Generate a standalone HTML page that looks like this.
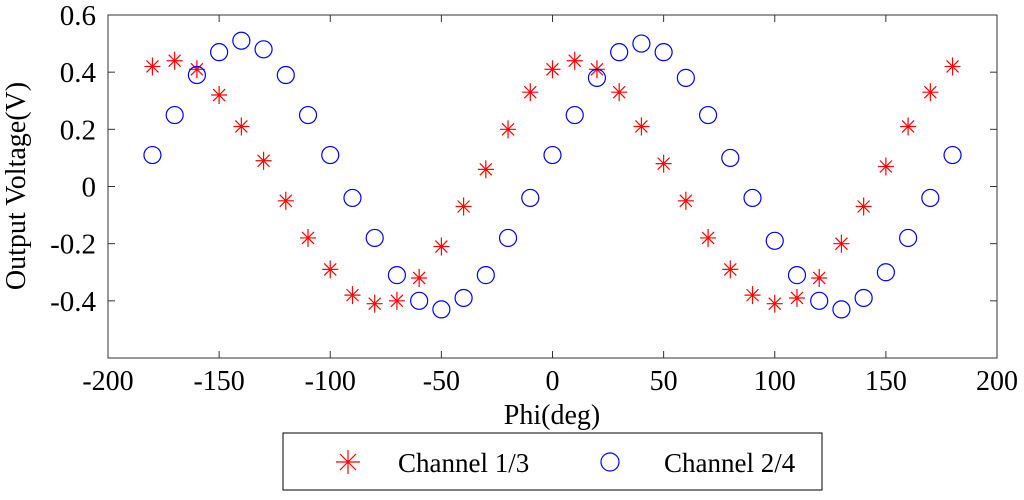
<!DOCTYPE html>
<html><head><meta charset="utf-8"><style>
body{margin:0;background:#fff;}
svg text{font-family:"Liberation Serif",serif;fill:#000;}
</style></head><body>
<svg id="chart" width="1024" height="495">
<g id="axes"></g>
<g id="marks"></g>
<g id="legend">
<rect x="283" y="433" width="539" height="57" fill="#fff" stroke="#000" stroke-width="1"/>
<g>
<g stroke="red" stroke-width="1.2"><line x1="336" y1="462" x2="360" y2="462"/><line x1="348" y1="450" x2="348" y2="474"/><line x1="340" y1="454" x2="356" y2="470"/><line x1="340" y1="470" x2="356" y2="454"/></g>
<text x="398" y="472" font-size="27">Channel 1/3</text></g>
<g>
<circle cx="610" cy="462" r="9" fill="none" stroke="blue" stroke-width="1.2"/>
<text x="664" y="472" font-size="27">Channel 2/4</text></g>
</g>
</svg>
<script>
const xValues=[-180,-170,-160,-150,-140,-130,-120,-110,-100,-90,-80,-70,-60,-50,-40,-30,-20,-10,0,10,20,30,40,50,60,70,80,90,100,110,120,130,140,150,160,170,180];
const ch13=[0.42,0.44,0.41,0.32,0.21,0.09,-0.05,-0.18,-0.29,-0.38,-0.41,-0.40,-0.32,-0.21,-0.07,0.06,0.20,0.33,0.41,0.44,0.41,0.33,0.21,0.08,-0.05,-0.18,-0.29,-0.38,-0.41,-0.39,-0.32,-0.20,-0.07,0.07,0.21,0.33,0.42];
const ch24=[0.11,0.25,0.39,0.47,0.51,0.48,0.39,0.25,0.11,-0.04,-0.18,-0.31,-0.40,-0.43,-0.39,-0.31,-0.18,-0.04,0.11,0.25,0.38,0.47,0.50,0.47,0.38,0.25,0.10,-0.04,-0.19,-0.31,-0.40,-0.43,-0.39,-0.30,-0.18,-0.04,0.11];
const xTicks=[-200,-150,-100,-50,0,50,100,150,200];
const yTicks=[-0.4,-0.2,0,0.2,0.4,0.6];
const yTickLabels=["-0.4","-0.2","0","0.2","0.4","0.6"];
const L=108,R=997,T=15,B=358;
const sx=v=>L+(v+200)/400*(R-L);
const sy=v=>B-(v+0.6)/1.2*(B-T);
const NS="http://www.w3.org/2000/svg";
function mk(tag,attrs,parent){const e=document.createElementNS(NS,tag);for(const k in attrs)e.setAttribute(k,attrs[k]);parent.appendChild(e);return e;}
const axes=document.getElementById('axes'),marks=document.getElementById('marks');
const box=mk('rect',{x:L,y:T,width:R-L,height:B-T,fill:'none',stroke:'#333','stroke-width':1},axes);


xTicks.forEach(v=>{
  mk('line',{x1:sx(v),x2:sx(v),y1:B,y2:B-7,stroke:'#333'},axes);
  mk('line',{x1:sx(v),x2:sx(v),y1:T,y2:T+7,stroke:'#333'},axes);
  const t=mk('text',{x:sx(v),y:B+32,'font-size':28,'text-anchor':'middle'},axes);t.textContent=v;
  
  
});
yTicks.forEach((v,i)=>{
  mk('line',{x1:L,x2:L+7,y1:sy(v),y2:sy(v),stroke:'#333'},axes);
  mk('line',{x1:R,x2:R-7,y1:sy(v),y2:sy(v),stroke:'#333'},axes);
  const t=mk('text',{x:L-12,y:sy(v)+10,'font-size':29,'text-anchor':'end'},axes);t.textContent=yTickLabels[i];
  
  
});
const xt=mk('text',{x:552,y:424,'font-size':28,'text-anchor':'middle'},axes);xt.textContent='Phi(deg)';


const yt=mk('text',{x:0,y:0,'font-size':28,'text-anchor':'middle',transform:'translate(25,186) rotate(-90)'},axes);yt.textContent='Output Voltage(V)';


xValues.forEach((x,i)=>{
  const cx=sx(x),cy=sy(ch13[i]);
  const g=mk('g',{stroke:'red','stroke-width':1.2},marks);
  
  
  mk('line',{x1:cx-8,x2:cx+8,y1:cy,y2:cy},g);
  mk('line',{x1:cx,x2:cx,y1:cy-9,y2:cy+9},g);
  mk('line',{x1:cx-6,x2:cx+6,y1:cy-6,y2:cy+6},g);
  mk('line',{x1:cx-6,x2:cx+6,y1:cy+6,y2:cy-6},g);
  const c=mk('circle',{cx:sx(x),cy:sy(ch24[i]),r:8.5,fill:'none',stroke:'blue','stroke-width':1.2},marks);
  
  
});
</script>
</body></html>
